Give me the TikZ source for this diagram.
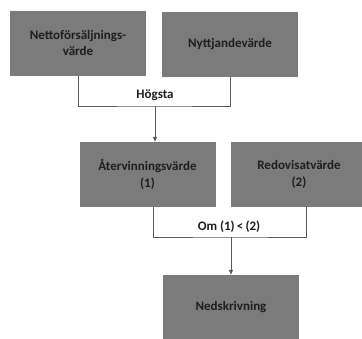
\documentclass[tikz,border=0pt]{standalone}
\usepackage{fontspec}
\setmainfont{Carlito}
\usetikzlibrary{arrows.meta}
\definecolor{boxgray}{HTML}{7B7B7B}
\definecolor{linegray}{HTML}{5A5A5A}
\definecolor{txt}{HTML}{1E1E1E}
\begin{document}
\begin{tikzpicture} [
                x=1pt,
                y=-1pt,
                box/.style={rectangle,fill=boxgray,minimum width=136pt,minimum height=65pt,inner sep=0pt,
                    align=center,text=txt,font=\bfseries\fontsize{13}{16.5}\selectfont},
                conn/.style = {draw,line width=1pt,linegray},
                arrowconn/.style = {conn,-{Triangle[length=5pt,width=4pt]}},
                rule/.style = {font=\bfseries\fontsize{13}{14.5}\selectfont,text=txt}
            ]
        \useasboundingbox (0,0) rectangle (362,338);
        % First we draw the boxes
            \foreach \pos/\name/\txt in {
                {(78,43)/netto/Nettoförsäljnings-\\värde},
                {(230,44.5)/nytt/Nyttjandevärde},
                {(147.5,174.5)/atervinning/Återvinningsvärde\\(1)},
                {(299,174.5)/redovisat/Redovisatvärde\\(2)},
            {(231,307.5)/nedskrivning/Nedskrivning}}
            \node[box] (\name) at \pos {\txt};
        % Join points of the connectors
            \coordinate (hogsta) at (155,106);
            \coordinate (om) at (231,237);
        % Connect boxes and draw the rules
            \path[conn] (netto.south) |- (hogsta) -| (nytt.south);
            \path[arrowconn] (hogsta) -- (atervinning.north -| hogsta);
            \path[conn] ([xshift=5.5pt]atervinning.south) |- (om) -| ([xshift=7pt]redovisat.south);
            \path[arrowconn] (om) -- (nedskrivning.north -| om);
            \node[rule] (hogstalabel) at (155,95) {Högsta};
            \node[rule] (omlabel) at (229,227) {Om (1)\,<\,(2)};
        \end{tikzpicture}
\end{document}
